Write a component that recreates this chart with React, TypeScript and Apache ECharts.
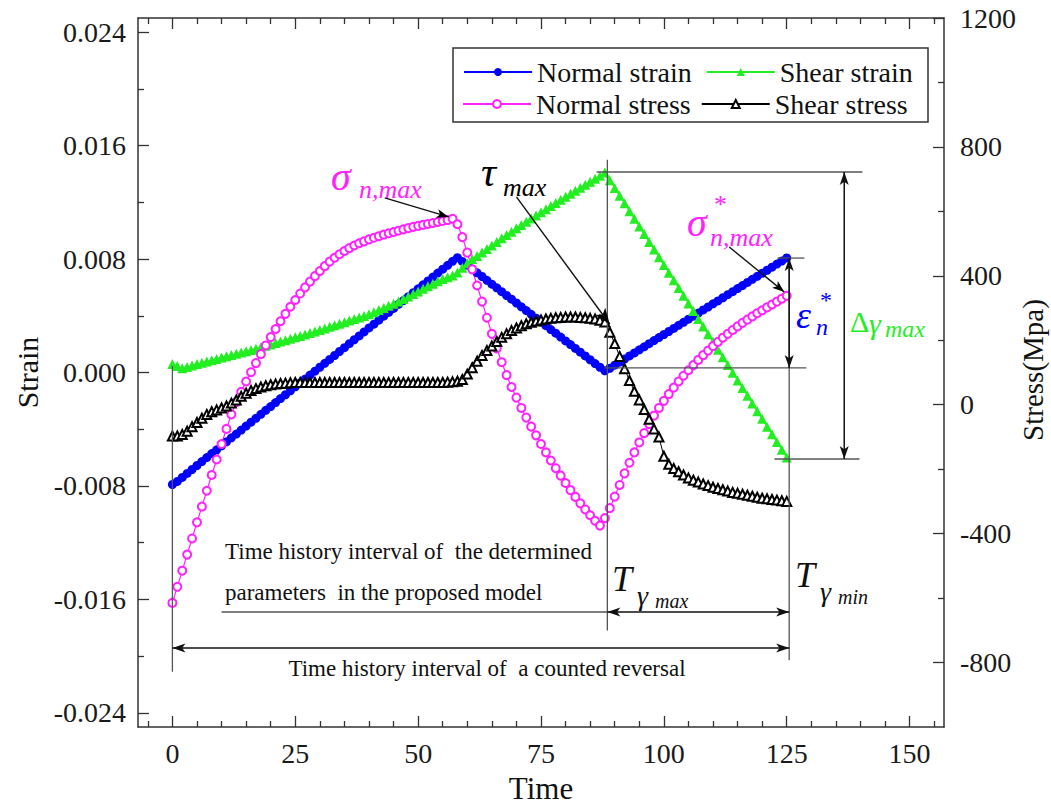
import React, { useEffect, useRef } from "react";
import * as echarts from "echarts";

const FONT = '"Liberation Serif", "Times New Roman", serif';

const time = [
  0, 1, 2, 3, 4, 5, 6, 7, 8, 9, 10, 11, 12, 13, 14, 15, 16, 17, 18, 19, 20, 21, 22, 23, 24, 25, 26, 27, 28, 29,
  30, 31, 32, 33, 34, 35, 36, 37, 38, 39, 40, 41, 42, 43, 44, 45, 46, 47, 48, 49, 50, 51, 52, 53, 54, 55, 56, 57, 58, 59,
  60, 61, 62, 63, 64, 65, 66, 67, 68, 69, 70, 71, 72, 73, 74, 75, 76, 77, 78, 79, 80, 81, 82, 83, 84, 85, 86, 87, 88, 89,
  90, 91, 92, 93, 94, 95, 96, 97, 98, 99, 100, 101, 102, 103, 104, 105, 106, 107, 108, 109, 110, 111, 112, 113, 114, 115,
  116, 117, 118, 119, 120, 121, 122, 123, 124, 125,
];

const normalStrain = [
  -0.0079, -0.00768, -0.0074, -0.00712, -0.00684, -0.00656, -0.00628, -0.006, -0.00572, -0.00545,
  -0.00517, -0.00489, -0.00461, -0.00434, -0.00406, -0.00378, -0.0035, -0.00323, -0.00295, -0.00267,
  -0.0024, -0.00212, -0.00184, -0.00157, -0.00129, -0.00101, -0.00074, -0.00046, -0.00018, 0.00009,
  0.00037, 0.00065, 0.00092, 0.0012, 0.00148, 0.00175, 0.00203, 0.00231, 0.00258, 0.00286,
  0.00314, 0.00341, 0.00369, 0.00397, 0.00424, 0.00452, 0.0048, 0.00507, 0.00535, 0.00563,
  0.0059, 0.00618, 0.00646, 0.00673, 0.00701, 0.00729, 0.00756, 0.00784, 0.0081, 0.00783,
  0.00757, 0.0073, 0.00703, 0.00677, 0.0065, 0.00623, 0.00597, 0.0057, 0.00543, 0.00517,
  0.0049, 0.00463, 0.00437, 0.0041, 0.00383, 0.00357, 0.0033, 0.00303, 0.00277, 0.0025,
  0.00223, 0.00197, 0.0017, 0.00143, 0.00117, 0.0009, 0.00063, 0.00037, 0.00012, 0.0003,
  0.00052, 0.00073, 0.00095, 0.00117, 0.00138, 0.0016, 0.00181, 0.00203, 0.00225, 0.00246,
  0.00268, 0.00289, 0.00311, 0.00333, 0.00354, 0.00376, 0.00397, 0.00419, 0.00441, 0.00462,
  0.00484, 0.00505, 0.00527, 0.00549, 0.0057, 0.00592, 0.00613, 0.00635, 0.00657, 0.00678,
  0.007, 0.00721, 0.00743, 0.00765, 0.00786, 0.00808,
];

const shearStrain = [
  0.0006, 0.00045, 0.0003, 0.00038, 0.0005, 0.0006, 0.00069, 0.00078, 0.00087, 0.00096,
  0.00105, 0.00114, 0.00123, 0.00132, 0.00141, 0.0015, 0.00159, 0.00168, 0.00178, 0.00188,
  0.00198, 0.00208, 0.00218, 0.00228, 0.00238, 0.00248, 0.00258, 0.00268, 0.00278, 0.00289,
  0.003, 0.00311, 0.00322, 0.00333, 0.00344, 0.00355, 0.00366, 0.00377, 0.00388, 0.00399,
  0.0041, 0.00425, 0.0044, 0.00455, 0.0047, 0.00485, 0.005, 0.00518, 0.00536, 0.00554,
  0.00572, 0.0059, 0.00608, 0.00626, 0.00644, 0.0066, 0.00672, 0.00684, 0.00705, 0.00738,
  0.0077, 0.008, 0.00822, 0.00847, 0.00871, 0.00896, 0.0092, 0.00946, 0.0097, 0.00993,
  0.01017, 0.0104, 0.01063, 0.01086, 0.01108, 0.0113, 0.01152, 0.01174, 0.01196, 0.01218,
  0.0124, 0.01261, 0.01282, 0.01303, 0.01324, 0.01345, 0.01366, 0.01387, 0.0141, 0.01356,
  0.01301, 0.01247, 0.01193, 0.01138, 0.01084, 0.0103, 0.00976, 0.00921, 0.00867, 0.00813,
  0.00758, 0.00704, 0.0065, 0.00596, 0.00541, 0.00487, 0.00433, 0.00378, 0.00324, 0.0027,
  0.00216, 0.00161, 0.00107, 0.00053, -0.00002, -0.00056, -0.0011, -0.00164, -0.00219, -0.00273,
  -0.00327, -0.00382, -0.00436, -0.0049, -0.00544, -0.006,
];

const normalStress = [
  -615, -565, -515, -465, -415, -365, -316, -267, -218, -170,
  -122, -75, -30, 8, 40, 72, 101, 129, 157, 184,
  210, 235, 259, 282, 304, 325, 345, 364, 382, 399,
  415, 430, 444, 456, 467, 477, 486, 494, 501, 507,
  513, 518, 523, 528, 532, 536, 540, 544, 548, 552,
  555, 558, 561, 564, 567, 570, 573, 577, 560, 520,
  472, 420, 370, 320, 270, 220, 175, 132, 92, 55,
  22, -10, -40, -68, -95, -122, -148, -173, -197, -220,
  -243, -265, -286, -306, -325, -343, -360, -375, -352, -321,
  -285, -249, -213, -180, -148, -117, -88, -60, -34, -10,
  12, 33, 53, 72, 90, 107, 123, 139, 154, 168,
  182, 195, 208, 220, 232, 243, 254, 264, 274, 284,
  293, 302, 311, 320, 329, 338,
];

const shearStress = [
  -97, -97, -92, -82, -68, -55, -42, -30, -22, -16,
  -10, -4, 5, 15, 26, 36, 44, 50, 55, 59,
  62, 64, 66, 67, 68, 69, 69, 69, 69, 69,
  69, 69, 69, 69, 69, 69, 69, 69, 69, 69,
  69, 69, 69, 69, 69, 69, 69, 69, 69, 69,
  69, 69, 69, 69, 69, 69, 70, 71, 73, 78,
  95, 115, 135, 153, 168, 182, 196, 209, 220, 230,
  238, 245, 251, 256, 260, 263, 266, 268, 270, 271,
  272, 272, 272, 271, 270, 268, 266, 262, 257, 225,
  190, 150, 112, 75, 42, 15, -15, -45, -75, -100,
  -160, -185, -198, -208, -218, -227, -234, -240, -246, -251,
  -256, -260, -264, -268, -272, -275, -278, -281, -284, -287,
  -290, -292, -294, -296, -298, -300,
];

const timeTicks = [0, 25, 50, 75, 100, 125, 150];
const timeMinorTicks = [-5, 5, 10, 15, 20, 30, 35, 40, 45, 55, 60, 65, 70, 80, 85, 90, 95, 105, 110, 115, 120, 130, 135, 140, 145, 155];
const strainTicks = [-0.024, -0.016, -0.008, 0, 0.008, 0.016, 0.024];
const strainMinorTicks = [-0.02, -0.012, -0.004, 0.004, 0.012, 0.02];
const stressTicks = [-800, -400, 0, 400, 800, 1200];
const stressMinorTicks = [-600, -200, 200, 600, 1000];

const seriesNames = ["Normal strain", "Shear strain", "Normal stress", "Shear stress"];

const AX = "#333";
const BLUE = "#0000ff";
const GREEN = "#22ee22";
const MAGENTA = "#ff22ff";
const BLACK = "#000000";

function pairs(xs: number[], ys: number[]) {
  return xs.map((x, i) => [x, ys[i]]);
}

function buildOption(): any {
  const axLine = { show: true, onZero: false, lineStyle: { color: AX, width: 1.5 } };
  const noLine = { show: false, onZero: false };
  const tickStyle = { color: AX, width: 1.3 };
  const xBase = { type: "value", min: -7, max: 157, splitLine: { show: false } };
  const yL = { type: "value", min: -0.025, max: 0.025, splitLine: { show: false } };
  const yR = { type: "value", min: -1000, max: 1200, splitLine: { show: false } };
  const labelStyle = { fontFamily: FONT, fontSize: 28, color: "#1a1a1a" };
  return {
    animation: false,
    backgroundColor: "#ffffff",
    grid: { left: 138, right: 107, top: 18, bottom: 82, containLabel: false, outerBoundsMode: "none" },
    legend: [
      {
        data: [seriesNames[0], seriesNames[1]],
        left: 463,
        top: 58,
        itemWidth: 68,
        itemHeight: 10,
        itemGap: 14,
        padding: 0,
        textStyle: { fontFamily: FONT, fontSize: 28, color: "#111" },
      },
      {
        data: [seriesNames[2], seriesNames[3]],
        left: 462,
        top: 90,
        itemWidth: 68,
        itemHeight: 10,
        itemGap: 10,
        padding: 0,
        textStyle: { fontFamily: FONT, fontSize: 28, color: "#111" },
      },
    ],
    xAxis: [
      {
        ...xBase,
        position: "bottom",
        axisLine: axLine,
        axisTick: { show: true, inside: true, length: 11, lineStyle: tickStyle, customValues: timeTicks },
        axisLabel: { ...labelStyle, margin: 12, customValues: timeTicks },
        name: "Time",
        nameLocation: "middle",
        nameGap: 46,
        nameTextStyle: { fontFamily: FONT, fontSize: 31, color: "#111" },
      },
      {
        ...xBase,
        position: "bottom",
        axisLine: noLine,
        axisTick: { show: true, inside: true, length: 6, lineStyle: tickStyle, customValues: timeMinorTicks },
        axisLabel: { show: false },
      },
      {
        ...xBase,
        position: "top",
        axisLine: axLine,
        axisTick: { show: true, inside: true, length: 11, lineStyle: tickStyle, customValues: timeTicks },
        axisLabel: { show: false },
      },
      {
        ...xBase,
        position: "top",
        axisLine: noLine,
        axisTick: { show: true, inside: true, length: 6, lineStyle: tickStyle, customValues: timeMinorTicks },
        axisLabel: { show: false },
      },
    ],
    yAxis: [
      {
        ...yL,
        position: "left",
        axisLine: axLine,
        axisTick: { show: true, inside: true, length: 11, lineStyle: tickStyle, customValues: strainTicks },
        axisLabel: { ...labelStyle, margin: 12, customValues: strainTicks, formatter: (v: number) => v.toFixed(3) },
        name: "Strain",
        nameLocation: "middle",
        nameRotate: 90,
        nameGap: 96,
        nameTextStyle: { fontFamily: FONT, fontSize: 30, color: "#111" },
      },
      {
        ...yR,
        position: "right",
        axisLine: axLine,
        axisTick: { show: true, inside: true, length: 11, lineStyle: tickStyle, customValues: stressTicks },
        axisLabel: { ...labelStyle, margin: 16, customValues: stressTicks, formatter: (v: number) => String(v) },
      },
      {
        ...yL,
        position: "left",
        axisLine: noLine,
        axisTick: { show: true, inside: true, length: 6, lineStyle: tickStyle, customValues: strainMinorTicks },
        axisLabel: { show: false },
      },
      {
        ...yR,
        position: "right",
        axisLine: noLine,
        axisTick: { show: true, inside: true, length: 6, lineStyle: tickStyle, customValues: stressMinorTicks },
        axisLabel: { show: false },
      },
    ],
    series: [
      {
        name: seriesNames[0],
        type: "line",
        xAxisIndex: 0,
        yAxisIndex: 0,
        data: pairs(time, normalStrain),
        symbol: "circle",
        symbolSize: 9,
        lineStyle: { color: BLUE, width: 2 },
        itemStyle: { color: BLUE, borderWidth: 0 },
      },
      {
        name: seriesNames[1],
        type: "line",
        xAxisIndex: 0,
        yAxisIndex: 0,
        data: pairs(time, shearStrain),
        symbol: "triangle",
        symbolSize: 10,
        lineStyle: { color: GREEN, width: 1.2 },
        itemStyle: { color: GREEN, borderWidth: 0 },
      },
      {
        name: seriesNames[2],
        type: "line",
        xAxisIndex: 0,
        yAxisIndex: 1,
        data: pairs(time, normalStress),
        symbol: "emptyCircle",
        symbolSize: 8,
        lineStyle: { color: MAGENTA, width: 1.2 },
        itemStyle: { color: MAGENTA, borderWidth: 1.3 },
      },
      {
        name: seriesNames[3],
        type: "line",
        xAxisIndex: 0,
        yAxisIndex: 1,
        data: pairs(time, shearStress),
        symbol: "emptyTriangle",
        symbolSize: 9,
        lineStyle: { color: BLACK, width: 1 },
        itemStyle: { color: BLACK, borderWidth: 1 },
      },
    ],
  };
}

// annotation geometry in (time, strain) coordinates
const plainLines = [
  [88.5, 0.015, 88.5, -0.0182],
  [125.5, 0.00807, 125.5, -0.0203],
  [0, 0.00046, 0, -0.0211],
  [86.3, 0.01414, 140.4, 0.01414],
  [87.9, 0.00032, 129.0, 0.00032],
  [123.1, 0.00807, 128.6, 0.00807],
  [122.5, -0.0061, 139.8, -0.0061],
  [10.0, -0.01689, 88.5, -0.01689],
];
const doubleArrows = [
  [136.7, 0.01414, 136.7, -0.0061],
  [125.5, 0.00807, 125.5, 0.00032],
  [88.5, -0.01689, 125.5, -0.01689],
  [0, -0.01943, 125.5, -0.01943],
];
const singleArrows = [
  [43.2, 0.01231, 56.2, 0.01097, 12, 4.5],
  [70.0, 0.01238, 89.0, 0.0034, 16, 6],
  [113.3, 0.00885, 124.5, 0.00568, 12, 4.5],
];

// label texts, placed in pixels
const notes: [string, number, number, number, string, boolean, string?][] = [
  ["σ", 331, 176, 40, MAGENTA, true],
  ["n,max", 359, 189, 26, MAGENTA, true],
  ["τ", 481, 172, 42, BLACK, true],
  ["max", 503, 187, 26, BLACK, true],
  ["σ", 687, 222, 40, MAGENTA, true],
  ["*", 714, 204, 26, MAGENTA, false],
  ["n,max", 710, 237, 26, MAGENTA, true],
  ["ε", 796, 315, 38, BLUE, true],
  ["*", 820, 300, 24, BLUE, false],
  ["n", 816, 327, 24, BLUE, true],
  ["Δ", 850, 321, 30, GREEN, false],
  ["γ", 869, 323, 30, GREEN, true],
  ["max", 885, 329, 24, GREEN, true],
  ["Time history interval of  the determined", 225, 551, 23, "#111", false],
  ["parameters  in the proposed model", 225, 592, 23, "#111", false],
  ["T", 612, 579, 36, "#111", true],
  ["γ", 637, 595, 28, "#111", true],
  ["max", 655, 601, 20, "#111", true],
  ["T", 795, 575, 36, "#111", true],
  ["γ", 820, 591, 28, "#111", true],
  ["min", 838, 597, 20, "#111", true],
  ["Time history interval of  a counted reversal", 487, 668, 23, "#111", false, "center"],
];

function head(x1: number, y1: number, x2: number, y2: number, len: number, half: number, color: string) {
  const dx = x2 - x1;
  const dy = y2 - y1;
  const d = Math.hypot(dx, dy) || 1;
  const ux = dx / d;
  const uy = dy / d;
  const bx = x2 - ux * len;
  const by = y2 - uy * len;
  const mx = x2 - ux * len * 0.75;
  const my = y2 - uy * len * 0.75;
  return {
    type: "polygon",
    silent: true,
    z: 20,
    shape: {
      points: [
        [x2, y2],
        [bx - uy * half, by + ux * half],
        [mx, my],
        [bx + uy * half, by - ux * half],
      ],
    },
    style: { fill: color },
  };
}

function buildGraphics(P: (t: number, s: number) => number[]) {
  const els: any[] = [];
  const line = (a: number[], b: number[], w = 1.3, c = "#333") =>
    els.push({
      type: "line",
      silent: true,
      z: 19,
      shape: { x1: a[0], y1: a[1], x2: b[0], y2: b[1] },
      style: { stroke: c, lineWidth: w },
    });
  plainLines.forEach(([t1, s1, t2, s2]) => line(P(t1, s1), P(t2, s2), 1.3, "#555"));
  doubleArrows.forEach(([t1, s1, t2, s2]) => {
    const a = P(t1, s1);
    const b = P(t2, s2);
    line(a, b, 1.5, "#111");
    els.push(head(a[0], a[1], b[0], b[1], 13, 4.5, "#111"));
    els.push(head(b[0], b[1], a[0], a[1], 13, 4.5, "#111"));
  });
  singleArrows.forEach(([t1, s1, t2, s2, len, half]) => {
    const a = P(t1, s1);
    const b = P(t2, s2);
    line(a, b, 1.4, "#111");
    els.push(head(a[0], a[1], b[0], b[1], len, half, "#000"));
  });
  // legend frame
  els.push({
    type: "rect",
    silent: true,
    z: 18,
    shape: { x: 453, y: 48, width: 475, height: 74 },
    style: { fill: "none", stroke: "#333", lineWidth: 1.5 },
  });
  // right axis title, reading bottom to top
  els.push({
    type: "text",
    silent: true,
    z: 21,
    x: 1033,
    y: 370,
    rotation: Math.PI / 2,
    style: {
      text: "Stress(Mpa)",
      fill: "#111",
      fontSize: 29,
      fontFamily: FONT,
      align: "center",
      verticalAlign: "middle",
      textAlign: "center",
      textVerticalAlign: "middle",
    },
  });
  notes.forEach(([text, x, y, size, color, italic, align]) => {
    els.push({
      type: "text",
      silent: true,
      z: 21,
      x,
      y,
      style: {
        text,
        fill: color,
        fontSize: size,
        fontFamily: FONT,
        fontStyle: italic ? "italic" : "normal",
        align: align || "left",
        verticalAlign: "middle",
        textAlign: align || "left",
        textVerticalAlign: "middle",
      },
    });
  });
  return els;
}

export default function App() {
  const ref = useRef<HTMLDivElement>(null);
  useEffect(() => {
    if (!ref.current) return;
    const chart = echarts.init(ref.current, null, { renderer: "svg" });
    chart.setOption(buildOption());
    const P = (t: number, s: number) =>
      chart.convertToPixel({ xAxisIndex: 0, yAxisIndex: 0 } as any, [t, s]) as unknown as number[];
    chart.setOption({ graphic: buildGraphics(P) });
    return () => chart.dispose();
  }, []);
  return <div ref={ref} style={{ position: "absolute", left: 0, top: 0, width: 1051, height: 809 }} />;
}
